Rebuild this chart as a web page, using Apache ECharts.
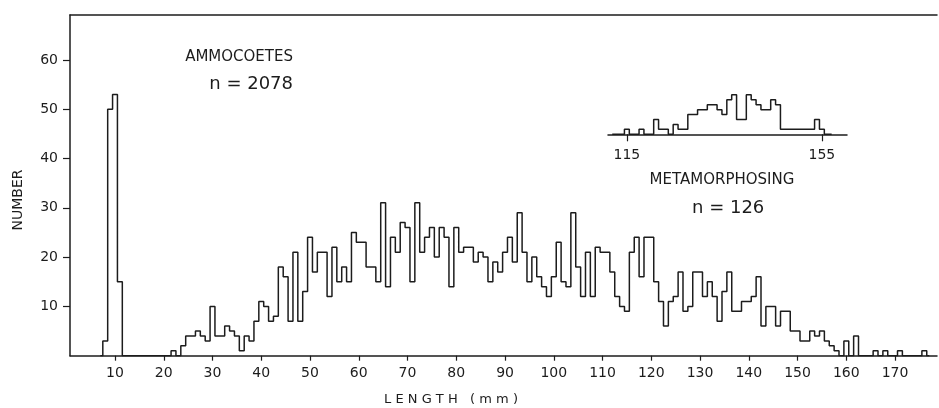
<!DOCTYPE html>
<html>
<head>
<meta charset="utf-8">
<script src="https://cdn.jsdelivr.net/npm/echarts@6/dist/echarts.min.js"></script>
<style>
  html, body { margin: 0; padding: 0; background: #fff; }
  #chart { width: 939px; height: 408px; }
</style>
</head>
<body>
<div id="chart"></div>
<script>
// ammocoetes: number per 1 mm length class, first class = 7 mm
const ammoStart = 7;
const ammoCounts = [
  0, 3, 50, 53, 15, 0, 0, 0, 0, 0, 0, 0, 0, 0, 0,       // 7-21
  1, 0, 2, 4, 4, 5, 4, 3, 10,                            // 22-30
  4, 4, 6, 5, 4, 1, 4, 3, 7, 11,                         // 31-40
  10, 7, 8, 18, 16, 7, 21, 7, 13, 24,                    // 41-50
  17, 21, 21, 12, 22, 15, 18, 15, 25, 23,                // 51-60
  23, 18, 18, 15, 31, 14, 24, 21, 27, 26,                // 61-70
  15, 31, 21, 24, 26, 20, 26, 24, 14, 26,                // 71-80
  21, 22, 22, 19, 21, 20, 15, 19, 17, 21,                // 81-90
  24, 19, 29, 21, 15, 20, 16, 14, 12, 16,                // 91-100
  23, 15, 14, 29, 18, 12, 21, 12, 22, 21,                // 101-110
  21, 17, 12, 10, 9, 21, 24, 16, 24, 24,                 // 111-120
  15, 11, 6, 11, 12, 17, 9, 10, 17, 17,                  // 121-130
  12, 15, 12, 7, 13, 17, 9, 9, 11, 11,                   // 131-140
  12, 16, 6, 10, 10, 6, 9, 9, 5, 5,                      // 141-150
  3, 3, 5, 4, 5, 3, 2, 1, 0, 3,                          // 151-160
  0, 4, 0, 0, 0, 1, 0, 1, 0, 0,                          // 161-170
  1, 0, 0, 0, 0, 1, 0                                    // 171-177
];

// metamorphosing: number per 1 mm length class, first class = 112 mm
const metaStart = 112;
const metaCounts = [
  0, 0, 0, 1, 0, 0, 1, 0, 0, 3,                          // 112-121
  1, 1, 0, 2, 1, 1, 4, 4, 5, 5,                          // 122-131
  6, 6, 5, 4, 7, 8, 3, 3, 8, 7,                          // 132-141
  6, 5, 5, 7, 6, 1, 1, 1, 1, 1,                          // 142-151
  1, 1, 3, 1, 0, 0                                       // 152-157
];

const xTicks = [10, 20, 30, 40, 50, 60, 70, 80, 90, 100, 110, 120, 130, 140, 150, 160, 170];
const yTicks = [10, 20, 30, 40, 50, 60];
const insetTicks = [115, 155];

const ink = '#1c1c1c';
const font = 'DejaVu Sans';

const ammoData = ammoCounts.map((c, i) => [ammoStart + i, c]);
const metaData = metaCounts.map((c, i) => [metaStart + i, c]);

const chart = echarts.init(document.getElementById('chart'));

const option = {
  animation: false,
  backgroundColor: '#fff',
  grid: [
    { left: 70, right: 2, top: 15, bottom: 52.3 },
    { left: 608, right: 92, top: 85, bottom: 273.7 }
  ],
  xAxis: [
    {
      gridIndex: 0, type: 'value', min: 0.77, max: 178.6,
      axisLine: { lineStyle: { color: ink, width: 1.5 } },
      axisTick: { customValues: xTicks, length: 5, lineStyle: { color: ink, width: 1.2 } },
      axisLabel: { customValues: xTicks, margin: 11, color: ink, fontFamily: font, fontSize: 14 },
      splitLine: { show: false }
    },
    {
      gridIndex: 0, type: 'value', position: 'top', min: 0.77, max: 178.6,
      axisLine: { lineStyle: { color: ink, width: 1.5 } },
      axisTick: { show: false }, axisLabel: { show: false }, splitLine: { show: false }
    },
    {
      gridIndex: 1, type: 'value', min: 111.13, max: 160.15,
      axisLine: { lineStyle: { color: ink, width: 1.5 } },
      axisTick: { customValues: insetTicks, length: 7, lineStyle: { color: ink, width: 1.2 } },
      axisLabel: { customValues: insetTicks, margin: 14, color: ink, fontFamily: font, fontSize: 14 },
      splitLine: { show: false }
    }
  ],
  yAxis: [
    {
      gridIndex: 0, type: 'value', min: 0, max: 69.1,
      axisLine: { show: true, lineStyle: { color: ink, width: 1.5 } },
      axisTick: { show: true, customValues: yTicks, length: 7, lineStyle: { color: ink, width: 1.2 } },
      axisLabel: { customValues: yTicks, margin: 12, color: ink, fontFamily: font, fontSize: 14 },
      splitLine: { show: false }
    },
    { gridIndex: 1, type: 'value', min: 0, max: 10, show: false }
  ],
  series: [
    {
      name: 'Ammocoetes', type: 'line', step: 'middle', xAxisIndex: 0, yAxisIndex: 0,
      data: ammoData, symbol: 'none', silent: true,
      lineStyle: { color: ink, width: 1.5 }
    },
    {
      name: 'Metamorphosing', type: 'line', step: 'middle', xAxisIndex: 2, yAxisIndex: 1,
      data: metaData, symbol: 'none', silent: true,
      lineStyle: { color: ink, width: 1.5 }
    }
  ],
  graphic: [
    { type: 'text', x: 451, y: 400, style: { text: 'L E N G T H   ( m m )', font: '13px ' + font, fill: ink, align: 'center', verticalAlign: 'middle', textAlign: 'center', textVerticalAlign: 'middle' } },
    { type: 'text', x: 18, y: 200, rotation: Math.PI / 2, style: { text: 'NUMBER', font: '14px ' + font, fill: ink, align: 'center', verticalAlign: 'middle', textAlign: 'center', textVerticalAlign: 'middle' } },
    { type: 'text', x: 293, y: 57, style: { text: 'AMMOCOETES', font: '15px ' + font, fill: ink, align: 'right', verticalAlign: 'middle', textAlign: 'right', textVerticalAlign: 'middle' } },
    { type: 'text', x: 293, y: 84, style: { text: 'n = 2078', font: '18px ' + font, fill: ink, align: 'right', verticalAlign: 'middle', textAlign: 'right', textVerticalAlign: 'middle' } },
    { type: 'text', x: 722, y: 180, style: { text: 'METAMORPHOSING', font: '15px ' + font, fill: ink, align: 'center', verticalAlign: 'middle', textAlign: 'center', textVerticalAlign: 'middle' } },
    { type: 'text', x: 692, y: 208, style: { text: 'n = 126', font: '18px ' + font, fill: ink, align: 'left', verticalAlign: 'middle', textAlign: 'left', textVerticalAlign: 'middle' } }
  ]
};

chart.setOption(option);
</script>
</body>
</html>
